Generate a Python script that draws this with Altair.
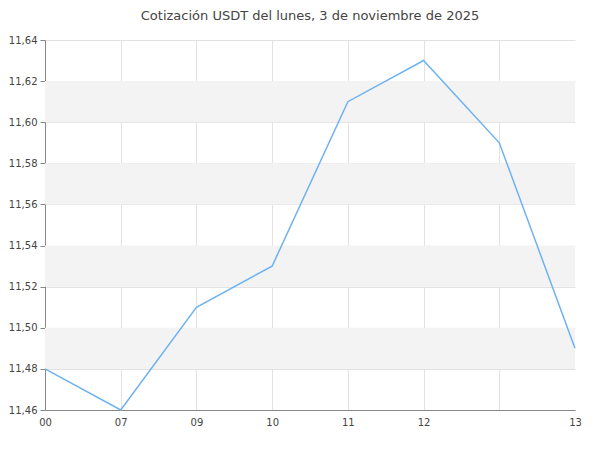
import altair as alt
import pandas as pd

hour_labels = ["00", "07", "09", "10", "11", "12", "", "13"]
prices = [11.48, 11.46, 11.51, 11.53, 11.61, 11.63, 11.59, 11.49]
band_starts = [11.48, 11.52, 11.56, 11.60]
band_ends = [11.50, 11.54, 11.58, 11.62]
y_ticks = [round(11.46 + 0.01 * i, 2) for i in range(19)]

df = pd.DataFrame({"idx": list(range(len(prices))), "price": prices})
bands = pd.DataFrame({"y0": band_starts, "y1": band_ends})

label_arr = "[" + ",".join("'" + s + "'" for s in hour_labels) + "]"

yscale = alt.Scale(domain=[11.46, 11.64], nice=False, zero=False)
xscale = alt.Scale(domain=[0, len(prices) - 1], nice=False, zero=False)

band_layer = alt.Chart(bands).mark_rect(color="#f3f3f3").encode(
    y=alt.Y("y0:Q", scale=yscale),
    y2="y1:Q",
    x=alt.value(0),
    x2=alt.value(530),
)

line = alt.Chart(df).mark_line(color="#6eb2f2", strokeWidth=1.5).encode(
    x=alt.X(
        "idx:Q",
        scale=xscale,
        axis=alt.Axis(
            title=None,
            values=list(range(len(prices))),
            labelExpr=label_arr + "[datum.value]",
            ticks=False,
            grid=True,
            gridColor="#e2e2e2",
            gridOpacity={"condition": {"test": "datum.value == 0 || datum.value == 7", "value": 0}, "value": 1},
            domainColor="#888888",
            labelColor="#444444",
            labelFontSize=10,
            labelFont="DejaVu Sans",
            labelPadding=7,
            labelFlush=False,
            labelBound=False,
            labelOverlap=False,
        ),
    ),
    y=alt.Y(
        "price:Q",
        scale=yscale,
        axis=alt.Axis(
            title=None,
            values=y_ticks,
            labelExpr="round(datum.value*100) % 2 == 0 ? replace(format(datum.value, '.2f'), '.', ',') : ''",
            tickColor="#888888",
            tickSize={"condition": {"test": "round(datum.value*100) % 2 == 0", "value": 5}, "value": 3},
            grid=True,
            gridColor="#e2e2e2",
            gridOpacity={"condition": {"test": "round(datum.value*100) % 2 == 0", "value": 1}, "value": 0},
            domainColor="#888888",
            labelColor="#444444",
            labelFontSize=10,
            labelFont="DejaVu Sans",
            labelPadding=3,
            labelOverlap=False,
            labelFlush=False,
        ),
    ),
)

chart = alt.layer(band_layer, line).properties(
    width=530,
    height=370,
    autosize=alt.AutoSizeParams(type="none"),
    padding={"left": 37, "top": 32, "right": 17, "bottom": 32},
    title=alt.TitleParams(
        "Cotización USDT del lunes, 3 de noviembre de 2025",
        font="DejaVu Sans",
        fontSize=13,
        fontWeight="normal",
        color="#444444",
        anchor="middle",
        offset=12,
    ),
).configure_view(stroke=None)

chart.save("out.html", embed_options={"renderer": "svg", "actions": False})
